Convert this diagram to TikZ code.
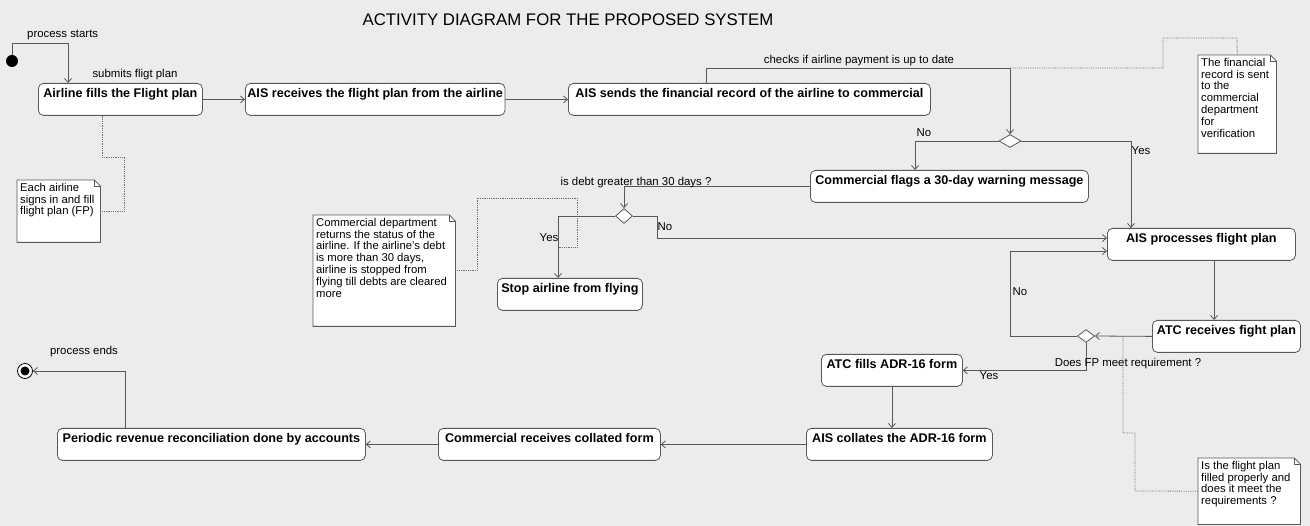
\documentclass[tikz,border=0pt]{standalone}
\usepackage{fontspec}
\setmainfont{Liberation Sans}
\usetikzlibrary{arrows.meta, shapes.geometric}
\definecolor{bgcol}{RGB}{236,236,236}
\definecolor{linecol}{RGB}{88,88,88}
% folded corner of a note
\newcommand{\notefold}[1]{%
  \fill[bgcol] ([xshift=-6pt]#1.north east) -- ([xshift=1pt,yshift=1pt]#1.north east) -- ([yshift=-6pt]#1.north east) -- cycle;
  \draw[linecol, line width=0.8pt] (#1.north west) -- ([xshift=-6pt]#1.north east) -- ([yshift=-6pt]#1.north east) -- (#1.south east) -- (#1.south west) -- cycle;
  \draw[linecol, line width=0.6pt] ([xshift=-6pt]#1.north east) |- ([yshift=-6pt]#1.north east);}
\tikzset{
  activity/.style={draw=linecol, line width=0.8pt, fill=white, rounded corners=5pt, anchor=north west,
    font=\fontsize{12.6}{14}\selectfont\bfseries, minimum height=32pt,
    text height=11.5pt, text depth=14.5pt, inner xsep=2pt, inner ysep=3pt},
  decision/.style={diamond, draw=linecol, line width=0.8pt, fill=white, inner sep=0pt},
  flow/.style={draw=linecol, line width=0.8pt, -{Straight Barb[length=4pt,width=7pt]}},
  noteline/.style={draw=linecol!85, line width=0.8pt, densely dotted},
  notebox/.style={fill=white, anchor=north west, inner sep=0pt},
  notetext/.style={anchor=north west, align=left, inner sep=3pt, font=\fontsize{11.3}{11.8}\selectfont},
  lbl/.style={font=\fontsize{11.4}{13}\selectfont, inner sep=1pt},
}
\begin{document}
\begin{tikzpicture}[x=1pt, y=-1pt]
\useasboundingbox (0,0) rectangle (1310,526);
\fill[bgcol] (0,0) rectangle (1310,526);
\node[font=\fontsize{16.8}{19}\selectfont] (title) at (568,20) {ACTIVITY DIAGRAM FOR THE PROPOSED SYSTEM};

% start and end
\node[circle, fill=black, minimum size=12pt, inner sep=0pt] (start) at (12,61) {};
\node[circle, draw=black, line width=0.8pt, fill=white, minimum size=15pt, inner sep=0pt] (finish) at (25,371) {};
\fill (finish) circle (4.5pt);

% activities
\node[activity, minimum width=164pt] (fillfp) at (38,83) {Airline fills the Flight plan};
\node[activity, minimum width=258pt] (aisrecv) at (245,83) {AIS receives the flight plan from the airline};
\node[activity, minimum width=362pt] (aissend) at (568,83) {AIS sends the financial record of the airline to commercial};
\node[activity, minimum width=278pt] (flagwarn) at (810,170) {Commercial flags a 30-day warning message};
\node[activity, minimum width=145pt] (stopair) at (497,278) {Stop airline from flying};
\node[activity, minimum width=188pt] (aisproc) at (1107,228) {AIS processes flight plan};
\node[activity, minimum width=148pt] (atcrecv) at (1152,320) {ATC receives fight plan};
\node[activity, minimum width=141pt] (atcfill) at (821,354) {ATC fills ADR-16 form};
\node[activity, minimum width=186pt] (aiscoll) at (806,428) {AIS collates the ADR-16 form};
\node[activity, minimum width=222pt] (commrecv) at (438,428) {Commercial receives collated form};
\node[activity, minimum width=308pt] (revenue) at (57,428) {Periodic revenue reconciliation done by accounts};

% decisions
\node[decision, minimum width=22pt, minimum height=13pt] (paydec) at (1010,141) {};
\node[decision, minimum width=17pt, minimum height=15pt] (debtdec) at (624,216) {};
\node[decision, minimum width=17pt, minimum height=13pt] (fpdec) at (1086,336) {};

% bend points
\coordinate (s0) at (68,43);
\coordinate (s1) at (706,68);
\coordinate (s2) at (915,141);
\coordinate (s3) at (1131,141);
\coordinate (s4) at (558,216);
\coordinate (s5) at (657,238);
\coordinate (s6) at (1214,259);
\coordinate (s7) at (1010,251);
\coordinate (s8) at (125,371);

% flows
\draw[flow] (start.north) |- (s0) -- (s0 |- fillfp.north);
\draw[flow] (fillfp) -- (aisrecv);
\draw[flow] (aisrecv) -- (aissend);
\draw[flow] (s1 |- aissend.north) -- (s1) -| (paydec.north);
\draw[flow] (paydec.west) -| (s2 |- flagwarn.north);
\draw[flow] (paydec.east) -| (s3 |- aisproc.north);
\draw[flow] (flagwarn.west) -| (debtdec.north);
\draw[flow] (debtdec.west) -| (s4 |- stopair.north);
\draw[flow] (debtdec.east) -| (s5) -- (s5 -| aisproc.west);
\draw[flow] (s6 |- aisproc.south) -- (s6 |- atcrecv.north);
\draw[flow] (atcrecv.west) -- (fpdec.east);
\draw[flow] (fpdec.west) -| (s7) -- (s7 -| aisproc.west);
\draw[flow] (fpdec.south) |- (atcfill.east);
\draw[flow] (atcfill.south) -- (atcfill.south |- aiscoll.north);
\draw[flow] (aiscoll) -- (commrecv);
\draw[flow] (commrecv) -- (revenue);
\draw[flow] (s8 |- revenue.north) -- (s8) -- (finish);

% labels
\node[lbl, anchor=west] (lblstart) at (26,35) {process starts};
\node[lbl] (lblsubmit) at (135,75) {submits fligt plan};
\node[lbl] (lblcheck) at (859,61) {checks if airline payment is up to date};
\node[lbl] (lblno1) at (924,133) {No};
\node[lbl] (lblyes1) at (1141,151) {Yes};
\node[lbl] (lbldebt) at (636,183) {is debt greater than 30 days ?};
\node[lbl] (lblyes2) at (549,238) {Yes};
\node[lbl] (lblno2) at (665,227) {No};
\node[lbl] (lblno3) at (1020,292) {No};
\node[lbl] (lblfp) at (1128,364) {Does FP meet requirement ?};
\node[lbl] (lblyes3) at (989,376) {Yes};
\node[lbl] (lblend) at (84,352) {process ends};

% notes
\node[notebox, minimum width=83pt, minimum height=62pt,
  label={[notetext]north west:{Each airline\\signs in and fill\\flight plan (FP)}}] (noteair) at (17,180) {};
\notefold{noteair}
\node[notebox, minimum width=142pt, minimum height=111pt,
  label={[notetext]north west:{Commercial department\\returns the status of the\\airline. If the airline's debt\\is more than 30 days,\\airline is stopped from\\flying till debts are cleared\\more}}] (notedebt) at (313,215) {};
\notefold{notedebt}
\node[notebox, minimum width=78pt, minimum height=98pt,
  label={[notetext]north west:{The financial\\record is sent\\to the\\commercial\\department\\for\\verification}}] (notefin) at (1198,55) {};
\notefold{notefin}
\node[notebox, minimum width=102pt, minimum height=66pt,
  label={[notetext]north west:{Is the flight plan\\filled properly and\\does it meet the\\requirements ?}}] (notefp) at (1198,458) {};
\notefold{notefp}

% note links
\coordinate (k1) at (102,157);
\coordinate (k2) at (558,247);
\coordinate (k4) at (1123,433);
\draw[noteline] (noteair.east) -| (124,157) -- (k1) -- (k1 |- fillfp.south);
\draw[noteline] (notedebt.east) -| (477,198) -| (577,247) -- (k2);
\draw[noteline] (paydec |- s1) -- (1163,68) |- (1237,38) -- (notefin.north);
\draw[noteline] (k4 |- atcrecv.west) -- (k4) -| (1135,491) -- (notefp.west);
\end{tikzpicture}
\end{document}
